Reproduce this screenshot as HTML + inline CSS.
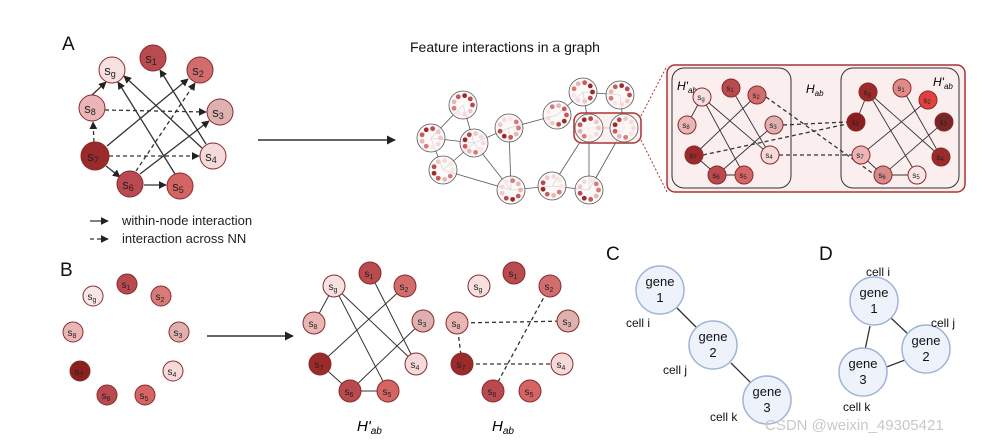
<!DOCTYPE html>
<html><head><meta charset="utf-8"><style>
body{margin:0;background:#fff}
svg{display:block;font-family:"Liberation Sans",sans-serif}
.n{stroke:#8a2a2a;stroke-width:1}
.l{text-anchor:middle;fill:#222}
.e{stroke:#333;stroke-width:1.3;fill:none}
.d{stroke:#333;stroke-width:1.3;fill:none;stroke-dasharray:4 3}
.g{fill:#eef2fa;stroke:#9fb3d9;stroke-width:1.5}
</style></head><body>
<svg id="s" width="987" height="440" viewBox="0 0 987 440">
<defs><marker id="a" viewBox="0 0 10 10" refX="9" refY="5" markerWidth="6" markerHeight="6" orient="auto"><path d="M0,0L10,5L0,10z" fill="#222"/></marker></defs>
<text x="62" y="50" font-size="19" fill="#111">A</text>
<text x="410" y="52" font-size="14" fill="#111">Feature interactions in a graph</text>
<!-- Panel A edges -->
<g class="e" stroke-width="2" marker-end="url(#a)">
<line x1="92" y1="95" x2="106" y2="82"/>
<line x1="107" y1="146" x2="188" y2="79"/>
<line x1="106" y1="166" x2="120" y2="177"/>
<line x1="144" y1="185" x2="166" y2="185"/>
<line x1="140" y1="174" x2="209" y2="121"/>
<line x1="206" y1="144" x2="160" y2="70"/>
<line x1="202" y1="148" x2="124" y2="76"/>
<line x1="175" y1="174" x2="118" y2="82"/>
</g>
<g class="d" stroke-width="1.6" marker-end="url(#a)">
<line x1="94" y1="142" x2="93" y2="122"/>
<line x1="105" y1="110" x2="206" y2="112"/>
<line x1="109" y1="156" x2="199" y2="156"/>
<line x1="136" y1="171" x2="195" y2="83"/>
</g>
<g font-size="13">
<circle class="n" cx="153" cy="58" r="13" fill="#b94a4f"/><text class="l" x="151" y="63">s<tspan font-size="9" dy="2">1</tspan></text>
<circle class="n" cx="200" cy="70" r="13" fill="#d16d6d"/><text class="l" x="198" y="75">s<tspan font-size="9" dy="2">2</tspan></text>
<circle class="n" cx="112" cy="70" r="13" fill="#f7e0e0"/><text class="l" x="110" y="75">s<tspan font-size="9" dy="2">g</tspan></text>
<circle class="n" cx="92" cy="108" r="13" fill="#eab5b5"/><text class="l" x="90" y="113">s<tspan font-size="9" dy="2">8</tspan></text>
<circle class="n" cx="220" cy="112" r="13" fill="#dfb0b0"/><text class="l" x="218" y="117">s<tspan font-size="9" dy="2">3</tspan></text>
<circle class="n" cx="95" cy="156" r="14" fill="#9b2a2a"/><text class="l" x="93" y="161">s<tspan font-size="9" dy="2">7</tspan></text>
<circle class="n" cx="213" cy="156" r="13" fill="#f6dada"/><text class="l" x="211" y="161">s<tspan font-size="9" dy="2">4</tspan></text>
<circle class="n" cx="130" cy="184" r="13" fill="#b94a4f"/><text class="l" x="128" y="189">s<tspan font-size="9" dy="2">6</tspan></text>
<circle class="n" cx="180" cy="186" r="13" fill="#d56565"/><text class="l" x="178" y="191">s<tspan font-size="9" dy="2">5</tspan></text>
</g>
<line class="e" stroke-width="1.6" x1="90" y1="221" x2="108" y2="221" marker-end="url(#a)"/>
<line class="d" stroke-width="1.6" x1="90" y1="239" x2="108" y2="239" marker-end="url(#a)"/>
<text x="122" y="225" font-size="13" fill="#222">within-node interaction</text>
<text x="122" y="243" font-size="13" fill="#222">interaction across NN</text>
<line x1="258" y1="140" x2="395" y2="140" stroke="#333" stroke-width="1.5" marker-end="url(#a)"/>
<!-- graph -->
<g id="gr" stroke="#555" stroke-width="0.8">
<line x1="463" y1="105" x2="431" y2="138"/><line x1="463" y1="105" x2="474" y2="143"/>
<line x1="431" y1="138" x2="474" y2="143"/><line x1="431" y1="138" x2="443" y2="170"/>
<line x1="474" y1="143" x2="443" y2="170"/><line x1="474" y1="143" x2="509" y2="128"/>
<line x1="474" y1="143" x2="511" y2="190"/><line x1="443" y1="170" x2="511" y2="190"/>
<line x1="509" y1="128" x2="511" y2="190"/><line x1="509" y1="128" x2="557" y2="115"/>
<line x1="557" y1="115" x2="583" y2="92"/><line x1="583" y1="92" x2="620" y2="95"/>
<line x1="583" y1="92" x2="589" y2="128"/><line x1="620" y1="95" x2="624" y2="128"/>
<line x1="589" y1="128" x2="624" y2="128"/><line x1="589" y1="128" x2="552" y2="186"/>
<line x1="589" y1="128" x2="589" y2="190"/><line x1="624" y1="128" x2="589" y2="190"/>
<line x1="511" y1="190" x2="552" y2="186"/><line x1="552" y1="186" x2="589" y2="190"/>
</g>
<rect x="574" y="113" width="67" height="30" rx="8" fill="#fbe9e9" fill-opacity="0.7" stroke="#a33" stroke-width="1.5"/>
<g id="cl"></g>
<line x1="641" y1="116" x2="667" y2="66" stroke="#a33" stroke-dasharray="2 2"/>
<line x1="641" y1="140" x2="667" y2="192" stroke="#a33" stroke-dasharray="2 2"/>
<rect x="667" y="65" width="298" height="127" rx="8" fill="#fbeeee" stroke="#a33" stroke-width="1.5"/>
<rect x="672" y="68" width="119" height="120" rx="12" fill="none" stroke="#333" stroke-width="1"/>
<rect x="841" y="68" width="118" height="120" rx="12" fill="none" stroke="#333" stroke-width="1"/>
<text x="677" y="90" font-size="12" font-style="italic">H'<tspan font-size="8" dy="3">ab</tspan></text>
<text x="806" y="93" font-size="12" font-style="italic">H<tspan font-size="8" dy="3">ab</tspan></text>
<text x="933" y="86" font-size="12" font-style="italic">H'<tspan font-size="8" dy="3">ab</tspan></text>
<g stroke="#333" stroke-width="0.9">
<line x1="702" y1="97" x2="687" y2="125"/><line x1="702" y1="97" x2="770" y2="155"/><line x1="702" y1="97" x2="744" y2="175"/>
<line x1="731" y1="88" x2="770" y2="155"/><line x1="757" y1="95" x2="694" y2="155"/><line x1="774" y1="125" x2="717" y2="175"/>
<line x1="694" y1="155" x2="717" y2="175"/><line x1="717" y1="175" x2="744" y2="175"/>
<line x1="868" y1="92" x2="856" y2="122"/><line x1="868" y1="92" x2="941" y2="157"/><line x1="868" y1="92" x2="917" y2="175"/>
<line x1="902" y1="88" x2="941" y2="157"/><line x1="928" y1="100" x2="861" y2="155"/><line x1="944" y1="122" x2="883" y2="175"/>
<line x1="861" y1="155" x2="883" y2="175"/><line x1="883" y1="175" x2="917" y2="175"/>
</g>
<g class="d" stroke-width="1" stroke-dasharray="3 2">
<line x1="783" y1="125" x2="847" y2="122"/><line x1="703" y1="155" x2="847" y2="124"/>
<line x1="779" y1="155" x2="852" y2="155"/><line x1="766" y1="97" x2="875" y2="175"/>
</g>
<g font-size="8">
<circle class="n" cx="702" cy="97" r="9" fill="#f7e0e0"/><text class="l" x="701" y="100">s<tspan font-size="6" dy="1">g</tspan></text>
<circle class="n" cx="731" cy="88" r="9" fill="#b94a4f"/><text class="l" x="730" y="91">s<tspan font-size="6" dy="1">1</tspan></text>
<circle class="n" cx="757" cy="95" r="9" fill="#d16d6d"/><text class="l" x="756" y="98">s<tspan font-size="6" dy="1">2</tspan></text>
<circle class="n" cx="687" cy="125" r="9" fill="#eab5b5"/><text class="l" x="686" y="128">s<tspan font-size="6" dy="1">8</tspan></text>
<circle class="n" cx="774" cy="125" r="9" fill="#dfb0b0"/><text class="l" x="773" y="128">s<tspan font-size="6" dy="1">3</tspan></text>
<circle class="n" cx="694" cy="155" r="9" fill="#9b2a2a"/><text class="l" x="693" y="158">s<tspan font-size="6" dy="1">7</tspan></text>
<circle class="n" cx="770" cy="155" r="9" fill="#f6dada"/><text class="l" x="769" y="158">s<tspan font-size="6" dy="1">4</tspan></text>
<circle class="n" cx="717" cy="175" r="9" fill="#b94a4f"/><text class="l" x="716" y="178">s<tspan font-size="6" dy="1">6</tspan></text>
<circle class="n" cx="744" cy="175" r="9" fill="#d56565"/><text class="l" x="743" y="178">s<tspan font-size="6" dy="1">5</tspan></text>
<circle class="n" cx="868" cy="92" r="9" fill="#9b2a2a"/><text class="l" x="867" y="95">s<tspan font-size="6" dy="1">g</tspan></text>
<circle class="n" cx="902" cy="88" r="9" fill="#e08a8a"/><text class="l" x="901" y="91">s<tspan font-size="6" dy="1">1</tspan></text>
<circle class="n" cx="928" cy="100" r="9" fill="#e04040"/><text class="l" x="927" y="103">s<tspan font-size="6" dy="1">2</tspan></text>
<circle class="n" cx="856" cy="122" r="9" fill="#8b1e1e"/><text class="l" x="855" y="125">s<tspan font-size="6" dy="1">8</tspan></text>
<circle class="n" cx="944" cy="122" r="9" fill="#7a2626"/><text class="l" x="943" y="125">s<tspan font-size="6" dy="1">3</tspan></text>
<circle class="n" cx="861" cy="155" r="9" fill="#eab5b5"/><text class="l" x="860" y="158">s<tspan font-size="6" dy="1">7</tspan></text>
<circle class="n" cx="941" cy="157" r="9" fill="#9b2a2a"/><text class="l" x="940" y="160">s<tspan font-size="6" dy="1">4</tspan></text>
<circle class="n" cx="883" cy="175" r="9" fill="#d88a8a"/><text class="l" x="882" y="178">s<tspan font-size="6" dy="1">6</tspan></text>
<circle class="n" cx="917" cy="175" r="9" fill="#fbe5e5"/><text class="l" x="916" y="178">s<tspan font-size="6" dy="1">5</tspan></text>
</g>
<!-- Panel B -->
<text x="60" y="276" font-size="19" fill="#111">B</text>
<g font-size="10">
<circle class="n" cx="127" cy="284" r="10" fill="#b94a4f"/><text class="l" x="126" y="288">s<tspan font-size="7" dy="2">1</tspan></text>
<circle class="n" cx="161" cy="296" r="10" fill="#d87a7a"/><text class="l" x="160" y="300">s<tspan font-size="7" dy="2">2</tspan></text>
<circle class="n" cx="93" cy="296" r="10" fill="#f9e6e6"/><text class="l" x="92" y="300">s<tspan font-size="7" dy="2">g</tspan></text>
<circle class="n" cx="73" cy="332" r="10" fill="#eab5b5"/><text class="l" x="72" y="336">s<tspan font-size="7" dy="2">8</tspan></text>
<circle class="n" cx="179" cy="332" r="10" fill="#dfb0b0"/><text class="l" x="178" y="336">s<tspan font-size="7" dy="2">3</tspan></text>
<circle class="n" cx="80" cy="371" r="10" fill="#8b2020"/><text class="l" x="79" y="375">s<tspan font-size="7" dy="2">7</tspan></text>
<circle class="n" cx="173" cy="371" r="10" fill="#f6dada"/><text class="l" x="172" y="375">s<tspan font-size="7" dy="2">4</tspan></text>
<circle class="n" cx="107" cy="395" r="10" fill="#b94a4f"/><text class="l" x="106" y="399">s<tspan font-size="7" dy="2">6</tspan></text>
<circle class="n" cx="145" cy="395" r="10" fill="#d56565"/><text class="l" x="144" y="399">s<tspan font-size="7" dy="2">5</tspan></text>
</g>
<line x1="207" y1="336" x2="293" y2="336" stroke="#333" stroke-width="1.5" marker-end="url(#a)"/>
<g stroke="#333" stroke-width="1">
<line x1="334" y1="286" x2="314" y2="323"/><line x1="334" y1="286" x2="416" y2="364"/><line x1="334" y1="286" x2="388" y2="391"/>
<line x1="370" y1="273" x2="416" y2="364"/><line x1="405" y1="286" x2="320" y2="364"/><line x1="423" y1="321" x2="350" y2="391"/>
<line x1="320" y1="364" x2="350" y2="391"/><line x1="350" y1="391" x2="388" y2="391"/>
</g>
<g class="d" stroke-width="1.2">
<line x1="457" y1="323" x2="568" y2="321"/><line x1="457" y1="323" x2="462" y2="364"/>
<line x1="462" y1="364" x2="562" y2="364"/><line x1="550" y1="286" x2="493" y2="391"/>
</g>
<g font-size="10">
<circle class="n" cx="370" cy="273" r="11" fill="#b94a4f"/><text class="l" x="369" y="277">s<tspan font-size="7" dy="2">1</tspan></text>
<circle class="n" cx="405" cy="286" r="11" fill="#d16d6d"/><text class="l" x="404" y="290">s<tspan font-size="7" dy="2">2</tspan></text>
<circle class="n" cx="334" cy="286" r="11" fill="#f7e0e0"/><text class="l" x="333" y="290">s<tspan font-size="7" dy="2">g</tspan></text>
<circle class="n" cx="314" cy="323" r="11" fill="#eab5b5"/><text class="l" x="313" y="327">s<tspan font-size="7" dy="2">8</tspan></text>
<circle class="n" cx="423" cy="321" r="11" fill="#dfb0b0"/><text class="l" x="422" y="325">s<tspan font-size="7" dy="2">3</tspan></text>
<circle class="n" cx="320" cy="364" r="11" fill="#9b2a2a"/><text class="l" x="319" y="368">s<tspan font-size="7" dy="2">7</tspan></text>
<circle class="n" cx="416" cy="364" r="11" fill="#f6dada"/><text class="l" x="415" y="368">s<tspan font-size="7" dy="2">4</tspan></text>
<circle class="n" cx="350" cy="391" r="11" fill="#b94a4f"/><text class="l" x="349" y="395">s<tspan font-size="7" dy="2">6</tspan></text>
<circle class="n" cx="388" cy="391" r="11" fill="#d56565"/><text class="l" x="387" y="395">s<tspan font-size="7" dy="2">5</tspan></text>
<circle class="n" cx="514" cy="273" r="11" fill="#b94a4f"/><text class="l" x="513" y="277">s<tspan font-size="7" dy="2">1</tspan></text>
<circle class="n" cx="550" cy="286" r="11" fill="#d16d6d"/><text class="l" x="549" y="290">s<tspan font-size="7" dy="2">2</tspan></text>
<circle class="n" cx="479" cy="286" r="11" fill="#f7e0e0"/><text class="l" x="478" y="290">s<tspan font-size="7" dy="2">g</tspan></text>
<circle class="n" cx="457" cy="323" r="11" fill="#eab5b5"/><text class="l" x="456" y="327">s<tspan font-size="7" dy="2">8</tspan></text>
<circle class="n" cx="568" cy="321" r="11" fill="#dfb0b0"/><text class="l" x="567" y="325">s<tspan font-size="7" dy="2">3</tspan></text>
<circle class="n" cx="462" cy="364" r="11" fill="#9b2a2a"/><text class="l" x="461" y="368">s<tspan font-size="7" dy="2">7</tspan></text>
<circle class="n" cx="562" cy="364" r="11" fill="#f6dada"/><text class="l" x="561" y="368">s<tspan font-size="7" dy="2">4</tspan></text>
<circle class="n" cx="493" cy="391" r="11" fill="#b94a4f"/><text class="l" x="492" y="395">s<tspan font-size="7" dy="2">6</tspan></text>
<circle class="n" cx="530" cy="391" r="11" fill="#d56565"/><text class="l" x="529" y="395">s<tspan font-size="7" dy="2">5</tspan></text>
</g>
<text x="357" y="431" font-size="15" font-style="italic">H'<tspan font-size="10" dy="3">ab</tspan></text>
<text x="492" y="431" font-size="15" font-style="italic">H<tspan font-size="10" dy="3">ab</tspan></text>
<!-- C -->
<text x="606" y="260" font-size="19" fill="#111">C</text>
<g stroke="#333" stroke-width="1.3"><line x1="677" y1="308" x2="697" y2="328"/><line x1="731" y1="363" x2="751" y2="383"/>
<line x1="870" y1="326" x2="865" y2="350"/><line x1="891" y1="318" x2="909" y2="335"/><line x1="884" y1="368" x2="905" y2="360"/></g>
<circle class="g" cx="660" cy="290" r="24"/><circle class="g" cx="713" cy="345" r="24"/><circle class="g" cx="767" cy="400" r="24"/>
<g font-size="13" fill="#111" text-anchor="middle">
<text x="660" y="286">gene</text><text x="660" y="302">1</text>
<text x="713" y="341">gene</text><text x="713" y="357">2</text>
<text x="767" y="396">gene</text><text x="767" y="412">3</text>
</g>
<g font-size="12" fill="#111"><text x="626" y="327">cell i</text><text x="663" y="374">cell j</text><text x="710" y="421">cell k</text></g>
<!-- D -->
<text x="819" y="260" font-size="19" fill="#111">D</text>
<circle class="g" cx="874" cy="301" r="24"/><circle class="g" cx="926" cy="349" r="24"/><circle class="g" cx="863" cy="372" r="24"/>
<g font-size="13" fill="#111" text-anchor="middle">
<text x="874" y="297">gene</text><text x="874" y="313">1</text>
<text x="926" y="345">gene</text><text x="926" y="361">2</text>
<text x="863" y="368">gene</text><text x="863" y="384">3</text>
</g>
<g font-size="12" fill="#111"><text x="866" y="276">cell i</text><text x="931" y="327">cell j</text><text x="843" y="411">cell k</text></g>
<text x="765" y="430" font-size="15" fill="#c8c8c8">CSDN @weixin_49305421</text>
</svg>
<script>
var C=[[463,105],[431,138],[474,143],[443,170],[509,128],[511,190],[557,115],[583,92],[620,95],[589,128],[624,128],[552,186],[589,190]];
var P=["#b94a4f","#eab5b5","#f6dada","#9b2a2a","#d87a7a","#f0c8c8","#c85a5a","#fbe5e5"];
var g=document.getElementById("cl"),ns="http://www.w3.org/2000/svg",k=0;
C.forEach(function(c){var o=document.createElementNS(ns,"circle");o.setAttribute("cx",c[0]);o.setAttribute("cy",c[1]);o.setAttribute("r",14);o.setAttribute("fill","#fdf8f8");o.setAttribute("fill-opacity","0.8");o.setAttribute("stroke","#555");o.setAttribute("stroke-width","0.8");g.appendChild(o);
for(var i=0;i<9;i++){var a=i*2*Math.PI/9,d=document.createElementNS(ns,"circle");d.setAttribute("cx",c[0]+9.5*Math.cos(a));d.setAttribute("cy",c[1]+9.5*Math.sin(a));d.setAttribute("r",2.4);d.setAttribute("fill",P[(k++*5)%8]);g.appendChild(d);}});
</script>
</body></html>
